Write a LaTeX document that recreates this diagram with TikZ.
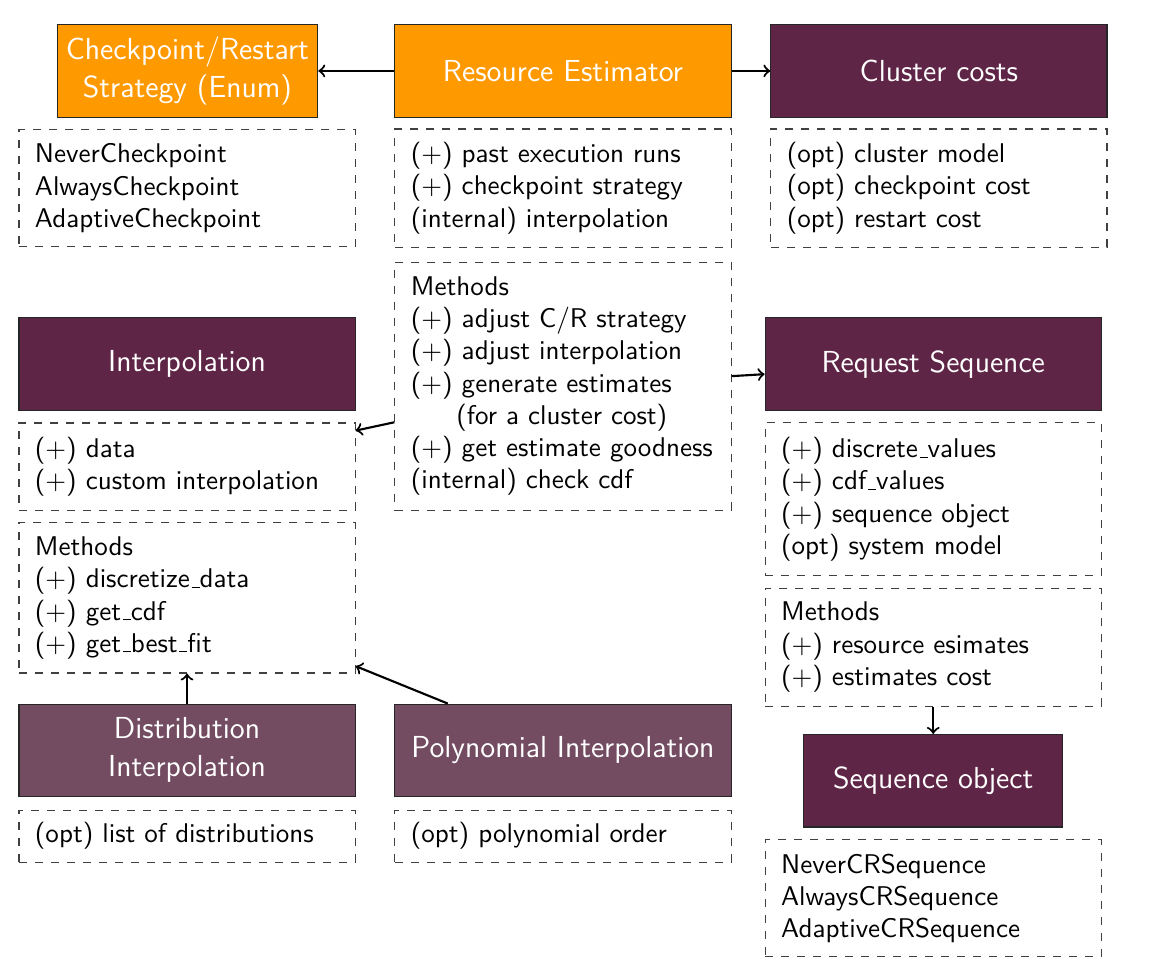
\documentclass[tikz,border=0pt]{standalone}
\usepackage{xcolor}
\renewcommand{\familydefault}{\sfdefault}
\definecolor{estorange}{RGB}{255,153,0}
\definecolor{estdark}{RGB}{95,37,70}
\definecolor{estlight}{RGB}{115,76,98}
\newcommand{\usc}{\leavevmode\kern.06em\vbox{\hrule width.3em}}
\begin{document}
\begin{tikzpicture}[
            head/.style={draw=black!85, text=white, font=\fontsize{11.4}{14.25}\selectfont, align=center, minimum width=4.43cm, minimum height=1.22cm},
            attr/.style={draw=black!75, dashed, align=left, font=\fontsize{10.15}{12.1}\selectfont, inner xsep=6pt, text width=4.43cm-12pt},
            link/.style={->, thick}
        ]
            \useasboundingbox (0,0) rectangle (15.17,-12.80);
            \node[head, fill=estorange, minimum width=3.41cm] (CR) at (2.47,-0.935){Checkpoint/Restart\\Strategy (Enum)};
            \node[head, fill=estorange] (RE) at (7.42,-0.935){Resource Estimator};
            \node[head, fill=estdark] (CC) at (12.375,-0.935){Cluster costs};
            \node[attr, minimum height=1.55cm] (CE) at (2.465,-2.48){NeverCheckpoint\\AlwaysCheckpoint\\AdaptiveCheckpoint};
            \node[attr, minimum height=1.56cm] (RA) at (7.42,-2.48){($+$) past execution runs\\($+$) checkpoint strategy\\(internal) interpolation};
            \node[attr, minimum height=1.56cm] (CA) at (12.375,-2.48){(opt) cluster model\\(opt) checkpoint cost\\(opt) restart cost};
            \node[attr, minimum height=3.27cm] (RM) at (7.42,-5.09){Methods\\($+$) adjust C/R strategy\\($+$) adjust interpolation\\($+$) generate estimates\\\hspace*{17pt}(for a cluster cost)\\($+$) get estimate goodness\\(internal) check cdf};
            \node[head, fill=estdark] (IN) at (2.465,-4.80){Interpolation};
            \node[attr, minimum height=1.15cm] (IA) at (2.465,-6.15){($+$) data\\($+$) custom interpolation};
            \node[attr, minimum height=1.98cm] (IM) at (2.465,-7.88){Methods\\($+$) discretize\usc data\\($+$) get\usc cdf\\($+$) get\usc best\usc f{}it};
            \node[head, fill=estdark] (RS) at (12.30,-4.80){Request Sequence};
            \node[attr, minimum height=2.02cm] (SA) at (12.30,-6.58){($+$) discrete\usc values\\($+$) cdf\usc values\\($+$) sequence object\\(opt) system model};
            \node[attr, minimum height=1.555cm] (SM) at (12.30,-8.53){Methods\\($+$) resource esimates\\($+$) estimates cost};
            \node[head, fill=estdark, minimum width=3.41cm] (SO) at (12.30,-10.29){Sequence object};
            \node[attr, minimum height=1.54cm] (SE) at (12.30,-11.84){NeverCRSequence\\AlwaysCRSequence\\AdaptiveCRSequence};
            \node[head, fill=estlight] (DI) at (2.465,-9.89){Distribution\\Interpolation};
            \node[head, fill=estlight] (PI) at (7.42,-9.89){Polynomial Interpolation};
            \node[attr, minimum height=0.685cm] (DA) at (2.465,-11.02){(opt) list of distributions};
            \node[attr, minimum height=0.685cm] (PA) at (7.42,-11.02){(opt) polynomial order};
            \draw[link] (RE) -- (CR);
            \draw[link] (RE) -- (CC);
            \draw[link] (RM) -- (IA);
            \draw[link] (RM) -- (RS);
            \draw[link] (DI) -- (IM);
            \draw[link] (PI) -- (IM);
            \draw[link] (SM) -- (SO);
        \end{tikzpicture}
\end{document}
